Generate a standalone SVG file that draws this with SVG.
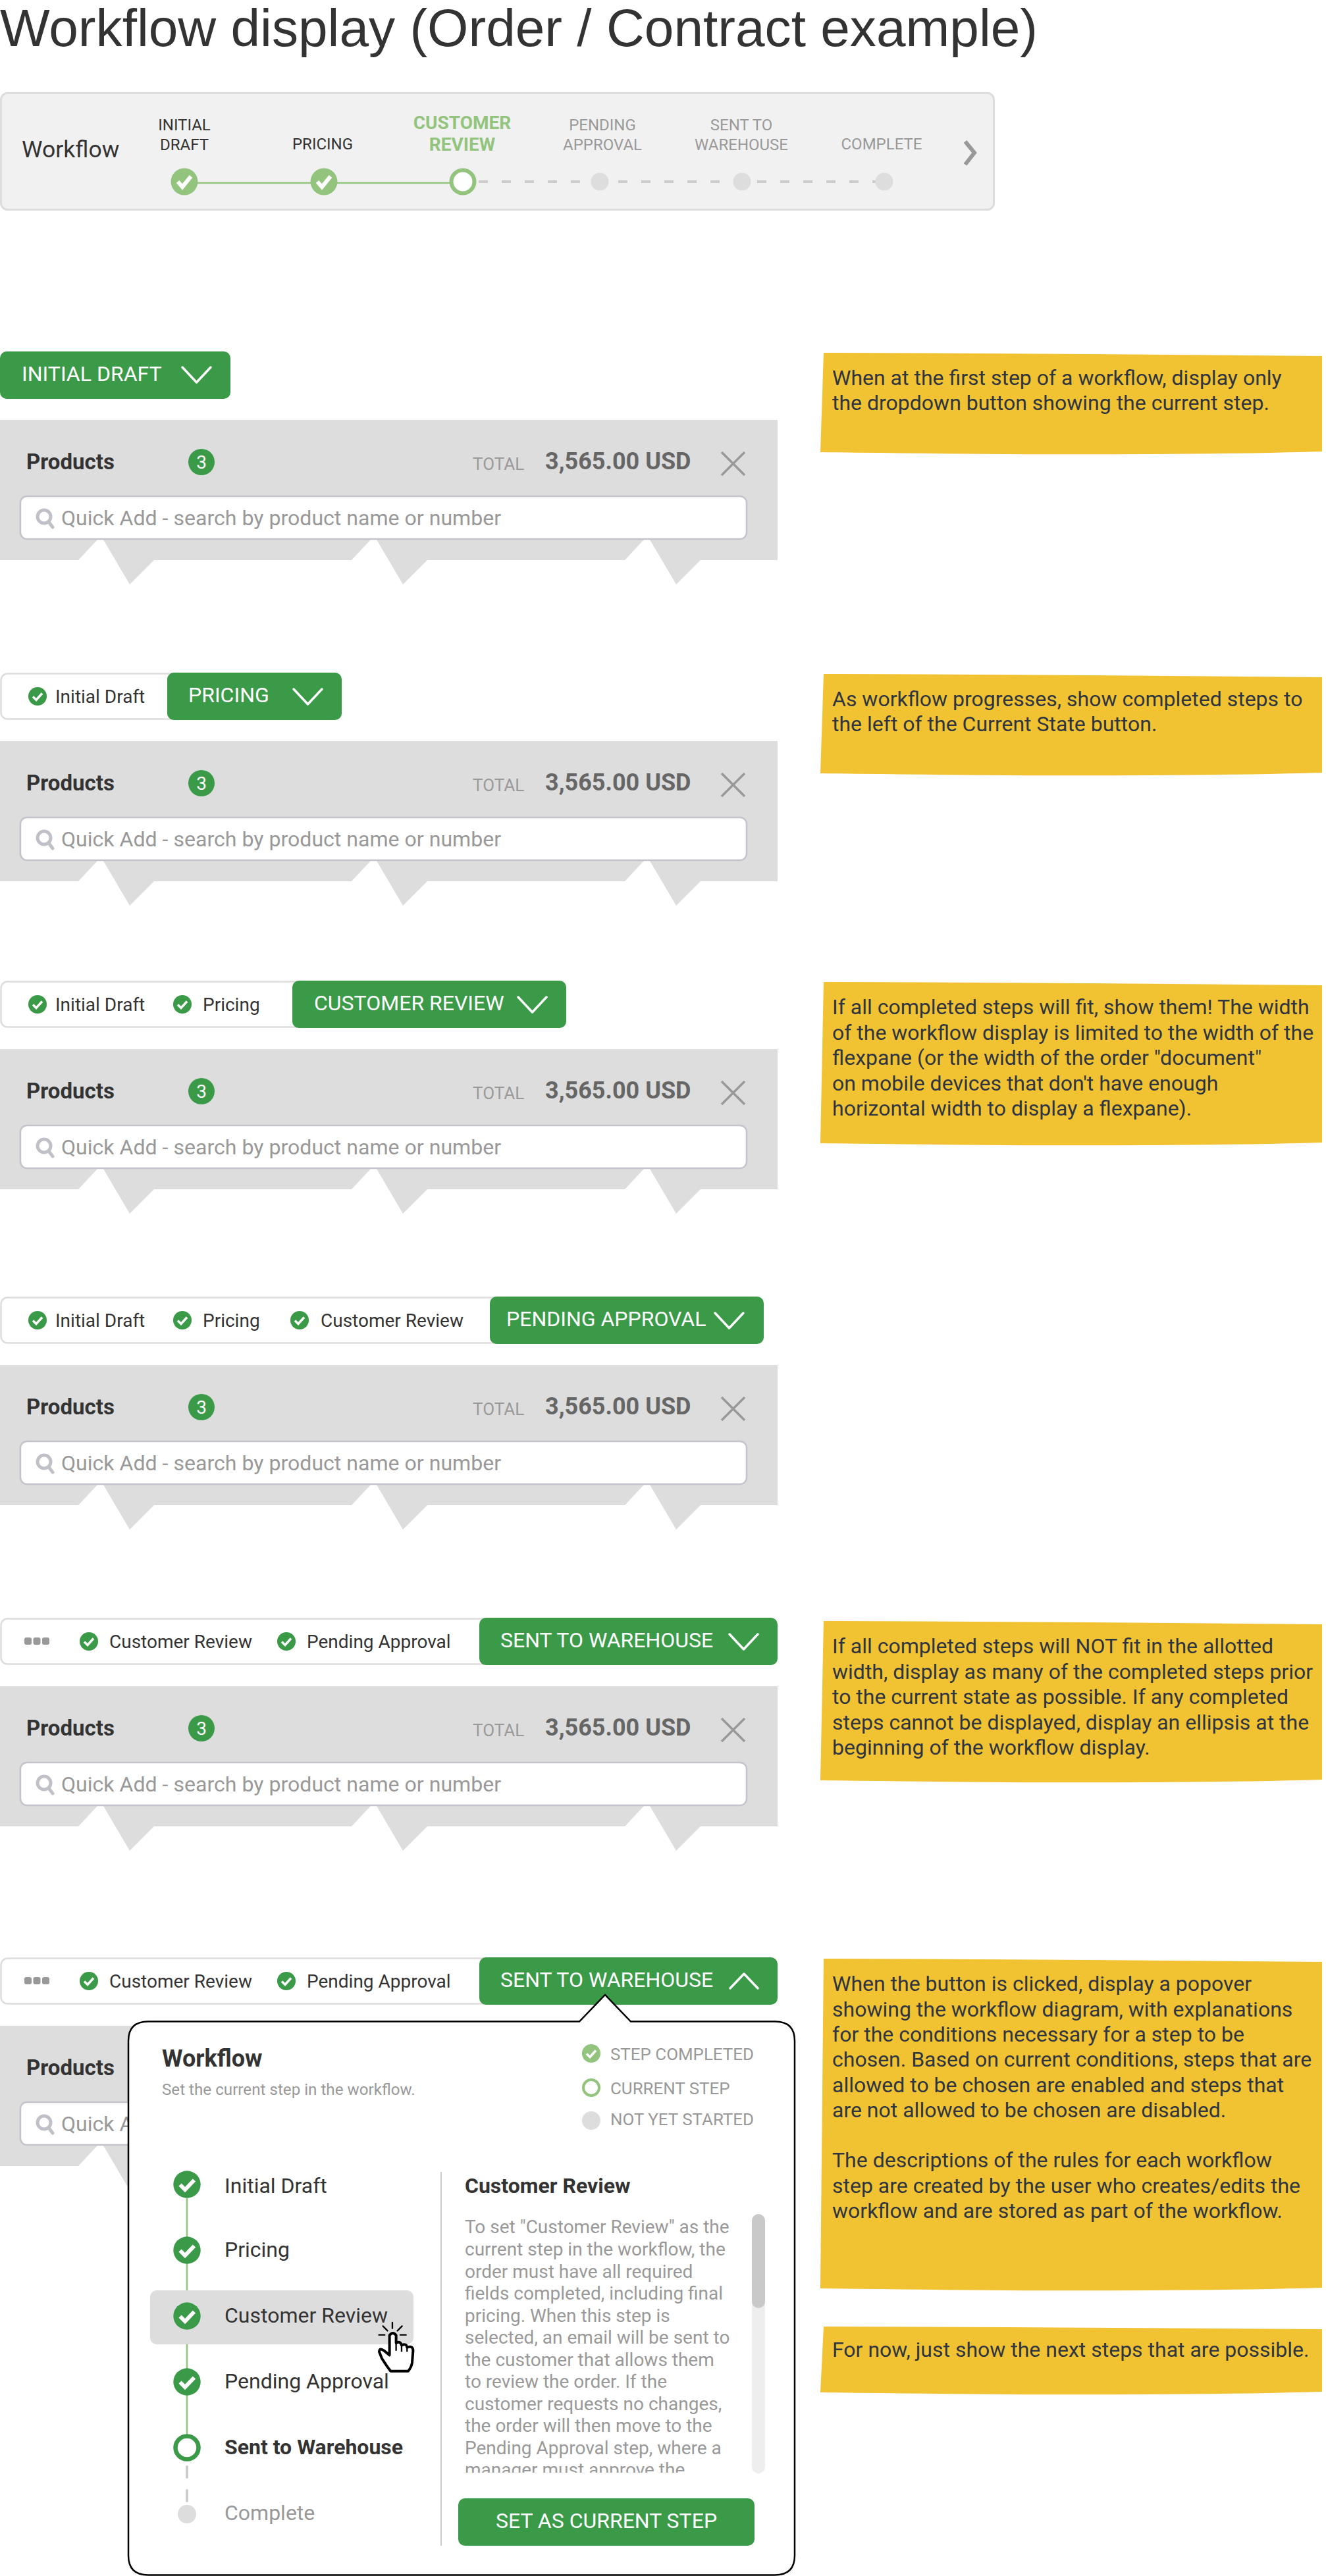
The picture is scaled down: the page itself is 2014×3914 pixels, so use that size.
<svg xmlns="http://www.w3.org/2000/svg" width="2014" height="3914" viewBox="0 0 2014 3914">
<style>
text{font-family:Roboto,"Liberation Sans",sans-serif}
.title{font-family:"Liberation Sans",Arial,sans-serif;font-size:80.200px;fill:#333}
.wl{font-size:24px;text-anchor:middle;fill:#333}
.wg{fill:#999}
.wc{font-size:28px;font-weight:700;fill:#93c47d;text-anchor:middle}
.lg{stroke:#93c47d;stroke-width:2.500;fill:none}
.ds{stroke:#ccc;stroke-width:4;stroke-dasharray:14 21;fill:none}
.btn{fill:#3a9a48}
.bt{font-size:32px;fill:#fff}
.chev{fill:none;stroke:#fff;stroke-width:3.500;stroke-linecap:round;stroke-linejoin:round}
.pill{fill:#fff;stroke:#ddd;stroke-width:2.500}
.pt{font-size:28px;fill:#333}
.panel{fill:#ddd}
.prod{font-size:33px;font-weight:700;fill:#333}
.badge{font-size:28px;fill:#fff;text-anchor:middle}
.tot{font-size:26px;fill:#999}
.amt{font-size:36px;font-weight:700;fill:#666}
.x{stroke:#999;stroke-width:3.500;fill:none}
.inp{fill:#fff;stroke:#c4c4cc;stroke-width:2.500}
.ph{font-size:32.100px;fill:#999}
.mg{fill:none;stroke:#c0c0c8;stroke-width:5;stroke-linecap:round}
.note{fill:#f1c232}
.nt{font-size:32px;fill:#2f3540}
.leg{font-size:25.900px;fill:#999}
.st{font-size:32px;fill:#333}
.desc{font-size:28px;fill:#999}
.cur{stroke:#000;stroke-width:7;stroke-linecap:round;fill:none}
</style>
<defs>
<g id="check">
<circle r="14" fill="#3a9a48"/>
<path d="M-7,0.500 L-2,5.500 L7,-4.500" fill="none" stroke="#fff" stroke-width="3.500"/>
</g>
<g id="checkBig">
<circle r="20.700" fill="#3a9a48"/>
<path d="M-10.500,0.500 L-3,8 L11,-6.500" fill="none" stroke="#fff" stroke-width="6"/>
</g>
<path id="chevDown" class="chev" d="M0,0 L21.500,23 L43,0"/>
<path id="panelShape" class="panel" d="M0,0 H1181 V213 H1064 L1027,250 L987,182 H978 L949,213 H649 L612,250 L572,182 H563 L534,213 H234 L197,250 L157,182 H148 L119,213 H0 Z"/>
<clipPath id="descClip"><rect x="690" y="3360" width="450" height="397"/></clipPath>
</defs>

<text class="title" x="0" y="70">Workflow display (Order / Contract example)</text>

<g id="workflow-panel">
<rect x="1.500" y="141.500" width="1508" height="177" rx="10" fill="#f1f1f1" stroke="#ddd" stroke-width="3"/>
<text x="33" y="239" font-size="35.500" fill="#333">Workflow</text>
<g id="connectors">
<path class="lg" d="M300,278 H472 M512,278 H683"/>
<path class="ds" d="M727,276 H898 M939,276 H1114 M1150,276 H1330"/>
</g>
<g id="wf-initial"><text class="wl" x="280" y="198">INITIAL</text><text class="wl" x="280" y="228">DRAFT</text>
<circle cx="280" cy="276" r="20.500" fill="#93c47d"/><path d="M270,276 L277,284 L290,268" fill="none" stroke="#fff" stroke-width="6"/></g>
<g id="wf-pricing"><text class="wl" x="490" y="227">PRICING</text>
<circle cx="492" cy="276" r="20.500" fill="#93c47d"/><path d="M482,276 L489,284 L502,268" fill="none" stroke="#fff" stroke-width="6"/></g>
<g id="wf-customer"><text class="wc" x="702" y="196">CUSTOMER</text><text class="wc" x="702" y="229">REVIEW</text>
<circle cx="703" cy="276" r="17.500" fill="#fff" stroke="#93c47d" stroke-width="6"/></g>
<g id="wf-pending"><text class="wl wg" x="915" y="198">PENDING</text><text class="wl wg" x="915" y="228">APPROVAL</text>
<circle cx="911" cy="276" r="13.500" fill="#ddd"/></g>
<g id="wf-sent"><text class="wl wg" x="1126" y="198">SENT TO</text><text class="wl wg" x="1126" y="228">WAREHOUSE</text>
<circle cx="1127" cy="276" r="13.500" fill="#ddd"/></g>
<g id="wf-complete"><text class="wl wg" x="1339" y="227">COMPLETE</text>
<circle cx="1343" cy="276" r="13.500" fill="#ddd"/></g>
<path d="M1466,215 L1480,232 L1466,250" fill="none" stroke="#999" stroke-width="6"/>
</g>

<g id="state-1">
<rect class="btn" x="0" y="534" width="350" height="72" rx="10"/>
<text class="bt" x="33" y="579">INITIAL DRAFT</text>
<use href="#chevDown" x="277" y="558"/>
</g>
<g id="panel-1">
<use href="#panelShape" x="0" y="638"/>
<text class="prod" x="40" y="713">Products</text>
<circle cx="306" cy="702" r="20" fill="#3a9a48"/><text class="badge" x="306" y="712">3</text>
<text class="tot" x="718" y="714">TOTAL</text><text class="amt" x="828" y="713">3,565.00 USD</text>
<path class="x" d="M1096,687 L1131,722 M1131,687 L1096,722"/>
<rect class="inp" x="31" y="754" width="1103" height="65" rx="10"/>
<circle class="mg" cx="67" cy="785" r="10"/><path class="mg" d="M74,793 L80,801"/>
<text class="ph" x="93" y="798">Quick Add - search by product name or number</text>
</g>
<g id="note-1">
<path class="note" d="M1251,536 Q1620,537 2008,541 V686 Q1730,694 1246,687 Z"/>
<text class="nt" x="1264" y="585">When at the first step of a workflow, display only</text>
<text class="nt" x="1264" y="623">the dropdown button showing the current step.</text>
</g>

<g id="state-2">
<rect class="pill" x="1.500" y="1023.500" width="280" height="69" rx="10"/>
<use href="#check" x="57" y="1058"/><text class="pt" x="84" y="1068">Initial Draft</text>
<rect class="btn" x="254" y="1022" width="265" height="72" rx="10"/>
<text class="bt" x="286" y="1067">PRICING</text>
<use href="#chevDown" x="446" y="1047"/>
</g>
<g id="panel-2">
<use href="#panelShape" x="0" y="1126"/>
<text class="prod" x="40" y="1201">Products</text>
<circle cx="306" cy="1190" r="20" fill="#3a9a48"/><text class="badge" x="306" y="1200">3</text>
<text class="tot" x="718" y="1202">TOTAL</text><text class="amt" x="828" y="1201">3,565.00 USD</text>
<path class="x" d="M1096,1175 L1131,1210 M1131,1175 L1096,1210"/>
<rect class="inp" x="31" y="1242" width="1103" height="65" rx="10"/>
<circle class="mg" cx="67" cy="1273" r="10"/><path class="mg" d="M74,1281 L80,1289"/>
<text class="ph" x="93" y="1286">Quick Add - search by product name or number</text>
</g>
<g id="note-2">
<path class="note" d="M1251,1024 Q1620,1025 2008,1029 V1174 Q1730,1182 1246,1175 Z"/>
<text class="nt" x="1264" y="1073">As workflow progresses, show completed steps to</text>
<text class="nt" x="1264" y="1111">the left of the Current State button.</text>
</g>

<g id="state-3">
<rect class="pill" x="1.500" y="1491.500" width="470" height="69" rx="10"/>
<use href="#check" x="57" y="1526"/><text class="pt" x="84" y="1536">Initial Draft</text>
<use href="#check" x="277" y="1526"/><text class="pt" x="308" y="1536">Pricing</text>
<rect class="btn" x="444" y="1490" width="416" height="72" rx="10"/>
<text class="bt" x="477" y="1535">CUSTOMER REVIEW</text>
<use href="#chevDown" x="787" y="1515"/>
</g>
<g id="panel-3">
<use href="#panelShape" x="0" y="1594"/>
<text class="prod" x="40" y="1669">Products</text>
<circle cx="306" cy="1658" r="20" fill="#3a9a48"/><text class="badge" x="306" y="1668">3</text>
<text class="tot" x="718" y="1670">TOTAL</text><text class="amt" x="828" y="1669">3,565.00 USD</text>
<path class="x" d="M1096,1643 L1131,1678 M1131,1643 L1096,1678"/>
<rect class="inp" x="31" y="1710" width="1103" height="65" rx="10"/>
<circle class="mg" cx="67" cy="1741" r="10"/><path class="mg" d="M74,1749 L80,1757"/>
<text class="ph" x="93" y="1754">Quick Add - search by product name or number</text>
</g>
<g id="note-3">
<path class="note" d="M1251,1492 Q1620,1493 2008,1497 V1736 Q1730,1744 1246,1737 Z"/>
<text class="nt" x="1264" y="1541">If all completed steps will fit, show them! The width</text>
<text class="nt" x="1264" y="1579.500">of the workflow display is limited to the width of the</text>
<text class="nt" x="1264" y="1618">flexpane (or the width of the order "document"</text>
<text class="nt" x="1264" y="1656.500">on mobile devices that don't have enough</text>
<text class="nt" x="1264" y="1695">horizontal width to display a flexpane).</text>
</g>

<g id="state-4">
<rect class="pill" x="1.500" y="1971.500" width="770" height="69" rx="10"/>
<use href="#check" x="57" y="2006"/><text class="pt" x="84" y="2016">Initial Draft</text>
<use href="#check" x="277" y="2006"/><text class="pt" x="308" y="2016">Pricing</text>
<use href="#check" x="455" y="2006"/><text class="pt" x="487" y="2016">Customer Review</text>
<rect class="btn" x="744" y="1970" width="416" height="72" rx="10"/>
<text class="bt" x="769" y="2015">PENDING APPROVAL</text>
<use href="#chevDown" x="1086" y="1995"/>
</g>
<g id="panel-4">
<use href="#panelShape" x="0" y="2074"/>
<text class="prod" x="40" y="2149">Products</text>
<circle cx="306" cy="2138" r="20" fill="#3a9a48"/><text class="badge" x="306" y="2148">3</text>
<text class="tot" x="718" y="2150">TOTAL</text><text class="amt" x="828" y="2149">3,565.00 USD</text>
<path class="x" d="M1096,2123 L1131,2158 M1131,2123 L1096,2158"/>
<rect class="inp" x="31" y="2190" width="1103" height="65" rx="10"/>
<circle class="mg" cx="67" cy="2221" r="10"/><path class="mg" d="M74,2229 L80,2237"/>
<text class="ph" x="93" y="2234">Quick Add - search by product name or number</text>
</g>

<g id="state-5">
<rect class="pill" x="1.500" y="2459.500" width="760" height="69" rx="10"/>
<g fill="#999"><rect x="37" y="2488" width="11" height="11" rx="3"/><rect x="50.500" y="2488" width="11" height="11" rx="3"/><rect x="64" y="2488" width="11" height="11" rx="3"/></g>
<use href="#check" x="135" y="2494"/><text class="pt" x="166" y="2504">Customer Review</text>
<use href="#check" x="435" y="2494"/><text class="pt" x="466" y="2504">Pending Approval</text>
<rect class="btn" x="728" y="2458" width="453" height="72" rx="10"/>
<text class="bt" x="760" y="2503">SENT TO WAREHOUSE</text>
<use href="#chevDown" x="1108" y="2483"/>
</g>
<g id="panel-5">
<use href="#panelShape" x="0" y="2562"/>
<text class="prod" x="40" y="2637">Products</text>
<circle cx="306" cy="2626" r="20" fill="#3a9a48"/><text class="badge" x="306" y="2636">3</text>
<text class="tot" x="718" y="2638">TOTAL</text><text class="amt" x="828" y="2637">3,565.00 USD</text>
<path class="x" d="M1096,2611 L1131,2646 M1131,2611 L1096,2646"/>
<rect class="inp" x="31" y="2678" width="1103" height="65" rx="10"/>
<circle class="mg" cx="67" cy="2709" r="10"/><path class="mg" d="M74,2717 L80,2725"/>
<text class="ph" x="93" y="2722">Quick Add - search by product name or number</text>
</g>
<g id="note-5">
<path class="note" d="M1251,2463 Q1620,2464 2008,2468 V2704 Q1730,2712 1246,2705 Z"/>
<text class="nt" x="1264" y="2512">If all completed steps will NOT fit in the allotted</text>
<text class="nt" x="1264" y="2550.500">width, display as many of the completed steps prior</text>
<text class="nt" x="1264" y="2589">to the current state as possible. If any completed</text>
<text class="nt" x="1264" y="2627.500">steps cannot be displayed, display an ellipsis at the</text>
<text class="nt" x="1264" y="2666">beginning of the workflow display.</text>
</g>

<g id="state-6">
<rect class="pill" x="1.500" y="2975.500" width="760" height="69" rx="10"/>
<g fill="#999"><rect x="37" y="3004" width="11" height="11" rx="3"/><rect x="50.500" y="3004" width="11" height="11" rx="3"/><rect x="64" y="3004" width="11" height="11" rx="3"/></g>
<use href="#check" x="135" y="3010"/><text class="pt" x="166" y="3020">Customer Review</text>
<use href="#check" x="435" y="3010"/><text class="pt" x="466" y="3020">Pending Approval</text>
<rect class="btn" x="728" y="2974" width="453" height="72" rx="10"/>
<text class="bt" x="760" y="3019">SENT TO WAREHOUSE</text>
<path class="chev" d="M1109,3021 L1130,2999 L1151,3021"/>
</g>
<g id="panel-6">
<use href="#panelShape" x="0" y="3078"/>
<text class="prod" x="40" y="3153">Products</text>
<rect class="inp" x="31" y="3194" width="1103" height="65" rx="10"/>
<circle class="mg" cx="67" cy="3225" r="10"/><path class="mg" d="M74,3233 L80,3241"/>
<text class="ph" x="93" y="3238">Quick Add - search by product name or number</text>
</g>
<g id="popover">
<path d="M225,3071.500 H880 L919,3031 L958,3071.500 H1177 Q1207,3071.500 1207,3101 V3883 Q1207,3912.500 1177,3912.500 H225 Q195,3912.500 195,3883 V3101 Q195,3071.500 225,3071.500 Z" fill="#fff" stroke="#000" stroke-width="2.500"/>
<text x="246" y="3140" font-size="36" font-weight="700" fill="#333">Workflow</text>
<text x="246" y="3183" font-size="24.200" fill="#999">Set the current step in the workflow.</text>
<g id="legend">
<circle cx="898" cy="3120" r="14" fill="#93c47d"/><path d="M891,3120.500 L896,3125.500 L905,3115.500" fill="none" stroke="#fff" stroke-width="3.500"/>
<text class="leg" x="927" y="3130">STEP COMPLETED</text>
<circle cx="898" cy="3172" r="12" fill="#fff" stroke="#93c47d" stroke-width="4"/>
<text class="leg" x="927" y="3182">CURRENT STEP</text>
<circle cx="898" cy="3222" r="14" fill="#ddd"/>
<text class="leg" x="927" y="3229">NOT YET STARTED</text>
</g>
<g id="popover-connectors">
<path class="lg" d="M284,3340 V3700"/>
<path d="M284,3748 V3764 M284,3784 V3800" stroke="#ccc" stroke-width="4" stroke-linecap="round" fill="none"/>
</g>
<rect x="228" y="3480" width="400" height="82" rx="10" fill="#ddd"/>
<g id="step-initial"><use href="#checkBig" x="284" y="3319"/><text class="st" x="341" y="3332">Initial Draft</text></g>
<g id="step-pricing"><use href="#checkBig" x="284" y="3419"/><text class="st" x="341" y="3429">Pricing</text></g>
<g id="step-customer"><use href="#checkBig" x="284" y="3519"/><text class="st" x="341" y="3529">Customer Review</text></g>
<g id="step-pending"><use href="#checkBig" x="284" y="3619"/><text class="st" x="341" y="3629">Pending Approval</text></g>
<g id="step-sent"><circle cx="284" cy="3719" r="17.500" fill="#fff" stroke="#3a9a48" stroke-width="6.500"/><text class="st" x="341" y="3729" font-weight="700">Sent to Warehouse</text></g>
<g id="step-complete"><circle cx="284" cy="3820" r="14" fill="#ddd"/><text class="st" x="341" y="3829" style="fill:#999">Complete</text></g>
<path d="M670,3300 V3868" stroke="#ccc" stroke-width="2" fill="none"/>
<text x="706" y="3332" font-size="32" font-weight="700" fill="#333">Customer Review</text>
<g clip-path="url(#descClip)">
<text class="desc" x="706" y="3393">To set "Customer Review" as the</text>
<text class="desc" x="706" y="3427">current step in the workflow, the</text>
<text class="desc" x="706" y="3460.500">order must have all required</text>
<text class="desc" x="706" y="3494">fields completed, including final</text>
<text class="desc" x="706" y="3527.500">pricing. When this step is</text>
<text class="desc" x="706" y="3561">selected, an email will be sent to</text>
<text class="desc" x="706" y="3594.500">the customer that allows them</text>
<text class="desc" x="706" y="3628">to review the order. If the</text>
<text class="desc" x="706" y="3661.500">customer requests no changes,</text>
<text class="desc" x="706" y="3695">the order will then move to the</text>
<text class="desc" x="706" y="3728.500">Pending Approval step, where a</text>
<text class="desc" x="706" y="3762">manager must approve the</text>
</g>
<rect x="1142" y="3364" width="20" height="394" rx="10" fill="#eee"/>
<rect x="1142" y="3364" width="20" height="143" rx="10" fill="#c9c9c9"/>
<rect class="btn" x="696" y="3796" width="450" height="72" rx="10"/>
<text x="921" y="3841" font-size="32" fill="#fff" text-anchor="middle">SET AS CURRENT STEP</text>
<g id="cursor" transform="translate(180,3400) scale(.3333)">
<path d="M1235,445 Q1250,425 1265,445 L1265,480 Q1285,470 1290,490 Q1312,480 1315,500 Q1345,490 1342,520 L1338,570 Q1335,590 1320,608 L1240,608 Q1225,590 1200,550 L1188,520 Q1190,500 1210,515 L1235,535 Z" fill="#fff" stroke="#000" stroke-width="12" stroke-linejoin="round"/>
<path d="M1265,480 V515 M1290,490 V520 M1315,500 V520" fill="none" stroke="#000" stroke-width="7"/>
<path class="cur" d="M1248,387 V413 M1205,403 L1226,424 M1292,403 L1271,424 M1187,443 H1213 M1284,443 H1310"/>
</g>
</g>
<g id="note-6">
<path class="note" d="M1251,2976 Q1620,2977 2008,2981 V3476 Q1730,3484 1246,3477 Z"/>
<text class="nt" x="1264" y="3025">When the button is clicked, display a popover</text>
<text class="nt" x="1264" y="3063.500">showing the workflow diagram, with explanations</text>
<text class="nt" x="1264" y="3102">for the conditions necessary for a step to be</text>
<text class="nt" x="1264" y="3140">chosen. Based on current conditions, steps that are</text>
<text class="nt" x="1264" y="3179">allowed to be chosen are enabled and steps that</text>
<text class="nt" x="1264" y="3217">are not allowed to be chosen are disabled.</text>
<text class="nt" x="1264" y="3293">The descriptions of the rules for each workflow</text>
<text class="nt" x="1264" y="3332">step are created by the user who creates/edits the</text>
<text class="nt" x="1264" y="3370">workflow and are stored as part of the workflow.</text>
</g>
<g id="note-7">
<path class="note" d="M1251,3535 Q1620,3536 2008,3539 V3634 Q1730,3642 1246,3635 Z"/>
<text class="nt" x="1264" y="3581">For now, just show the next steps that are possible.</text>
</g>
</svg>
